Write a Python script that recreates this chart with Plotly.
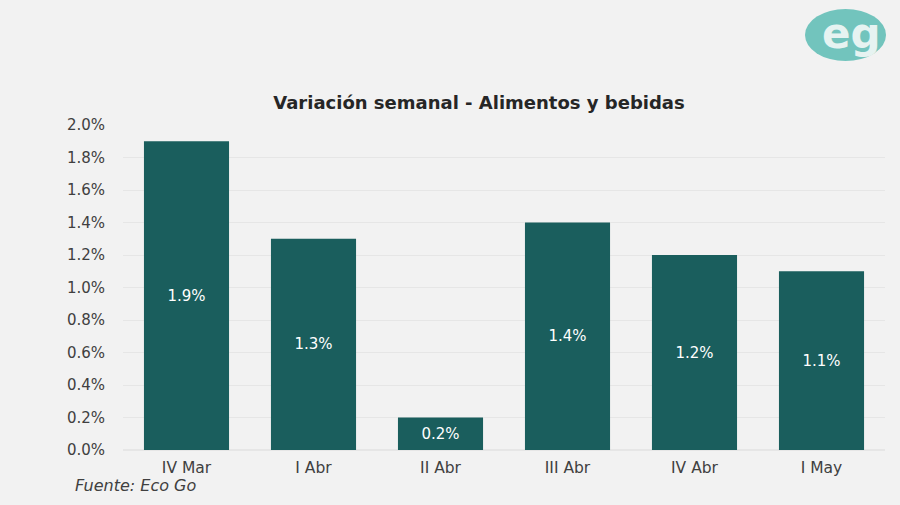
import plotly.graph_objects as go

semanas = ["IV Mar", "I Abr", "II Abr", "III Abr", "IV Abr", "I May"]
variacion = [1.9, 1.3, 0.2, 1.4, 1.2, 1.1]
ticks = [0.0, 0.2, 0.4, 0.6, 0.8, 1.0, 1.2, 1.4, 1.6, 1.8, 2.0]
etiquetas = ["%.1f%%" % v for v in variacion]
tick_labels = ["%.1f%%" % t for t in ticks]

W = 900
H = 505
FONT = "DejaVu Sans"
L = 123
R = 15
T = 125
B = 55
PW = W - L - R
PH = H - T - B


def paper_x(x):
    return (x - L) / PW


def paper_y(y):
    return (H - B - y) / PH


bars = go.Bar(
    x=semanas,
    y=variacion,
    text=etiquetas,
    textposition="inside",
    insidetextanchor="middle",
    textangle=0,
    constraintext="none",
    textfont=dict(family=FONT, size=15, color="#ffffff"),
    marker=dict(color="#1a5e5d", line=dict(width=0)),
)

fig = go.Figure(data=[bars])
fig.update_layout(
    width=W,
    height=H,
    showlegend=False,
    bargap=0.33,
    paper_bgcolor="#f2f2f2",
    plot_bgcolor="#f2f2f2",
    margin=dict(l=L, r=R, t=T, b=B, autoexpand=False),
    font=dict(family=FONT, color="#404040"),
    title=dict(
        text="<b>Variación semanal - Alimentos y bebidas</b>",
        font=dict(family=FONT, size=18, color="#262626"),
        x=479 / W,
        xanchor="center",
        y=1 - 103 / H,
        yanchor="middle",
    ),
    xaxis=dict(
        showgrid=False,
        zeroline=False,
        showline=False,
        ticks="",
        ticklabelstandoff=6,
        tickfont=dict(family=FONT, size=15.5, color="#404040"),
    ),
    yaxis=dict(
        range=[0, 2.0],
        tickvals=ticks,
        ticktext=tick_labels,
        showgrid=True,
        gridcolor="#e6e6e6",
        gridwidth=1,
        zeroline=True,
        zerolinecolor="#e6e6e6",
        showline=False,
        ticks="",
        ticklabelstandoff=17,
        tickfont=dict(family=FONT, size=15, color="#404040"),
    ),
)

fig.add_annotation(
    text="<i>Fuente: Eco Go</i>",
    xref="paper",
    yref="paper",
    x=paper_x(73),
    xanchor="left",
    y=paper_y(485),
    yanchor="middle",
    showarrow=False,
    font=dict(family=FONT, size=16, color="#404040"),
)

# logo
fig.add_shape(
    type="circle",
    xref="paper",
    yref="paper",
    x0=paper_x(805),
    x1=paper_x(886),
    y0=paper_y(61),
    y1=paper_y(9),
    fillcolor="#72c4bd",
    line=dict(width=0),
)
fig.add_annotation(
    text="<b>eg</b>",
    xref="paper",
    yref="paper",
    x=paper_x(851),
    xanchor="center",
    y=paper_y(33),
    yanchor="middle",
    showarrow=False,
    font=dict(family=FONT, size=42, color="#e6f3f1"),
)

fig.write_html(
    "out.html",
    config=dict(displayModeBar=False),
    post_script="document.body.style.margin='0';",
)
